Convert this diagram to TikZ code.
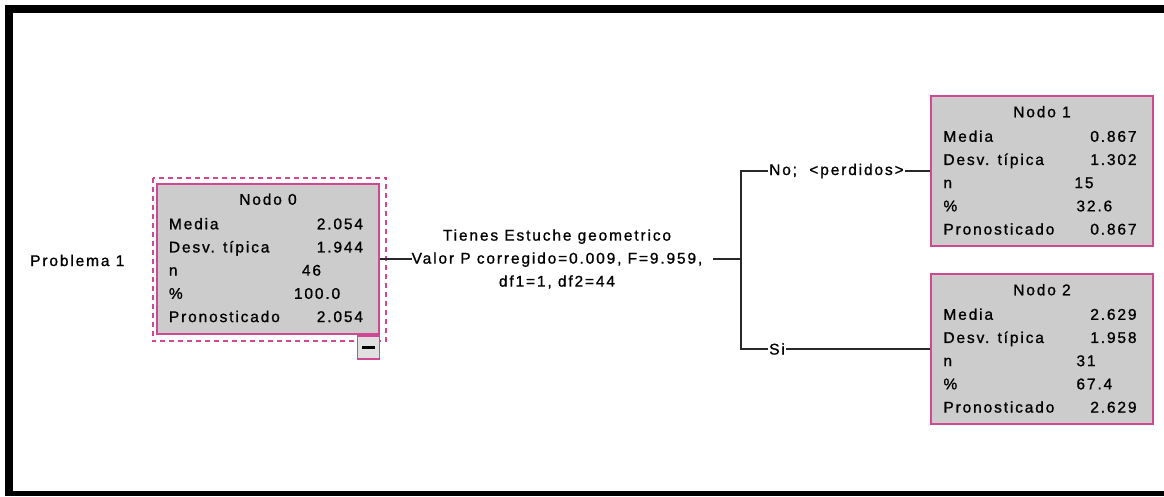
\documentclass[tikz,border=0pt]{standalone}
\usepackage{fontspec}
\setmainfont{Liberation Sans}[LetterSpace=12,FakeBold=1]
\usetikzlibrary{positioning}
\definecolor{spsspink}{RGB}{208,72,146}
\definecolor{spssgray}{RGB}{204,204,204}
\definecolor{spssline}{RGB}{40,40,40}

\begin{document}
\begin{tikzpicture}[
  x=1pt,y=-1pt,
  every node/.style={font=\fontsize{15.5}{23}\selectfont,inner sep=0pt},
  nodebox/.style={draw=spsspink,fill=spssgray,line width=1.5pt,
                  minimum width=222pt,minimum height=150pt},
  togglebox/.style={draw=spsspink,fill=spssgray!60,line width=1.5pt,
                    minimum width=22pt,minimum height=23pt},
  rowlbl/.style={anchor=base west},
  rowval/.style={anchor=base east},
  rowmid/.style={anchor=base west},
  link/.style={draw=spssline,line width=1.4pt},
]
  \useasboundingbox (0,0) rectangle (1164,496);

  % Frame
  \fill (5,5) rectangle (1164,13);
  \fill (5,5) rectangle (13,496);
  \fill (5,491) rectangle (1164,496);

  % Root label
  \node[anchor=base west] (root) at (30,266) {Problema 1};

  % Nodo 0
  \node[nodebox,line width=2.5pt] (n0) at (268,259) {};
  \draw[spsspink,line width=2pt,dash pattern=on 5pt off 4pt]
    ([shift={(-3,-5)}]n0.north west) rectangle ([shift={(6,6)}]n0.south east);
  \node[togglebox,anchor=north east] (t0) at (n0.south east) {\rule{13pt}{2.5pt}};

  % Nodo 1 and Nodo 2
  \node[nodebox] (n1) at (1042,171) {};
  \node[nodebox] (n2) at (1042,349) {};

  % Titles and row labels
  \foreach \b/\t in {n0/Nodo 0,n1/Nodo 1,n2/Nodo 2} {
    \node[anchor=base] (\b-title) at ([yshift=-22pt]\b.north) {\t};
    \foreach \lab [count=\k from 0] in {Media,Desv. típica,n,\%,Pronosticado}
      \node[rowlbl] (\b-l\k) at ([xshift=13pt,yshift=-46.5pt-23.2pt*\k]\b.north west) {\lab};
  }

  % Values Nodo 0
  \node[rowval] (n0-v0) at ([xshift=-17pt,yshift=-46.5pt]n0.north east) {2.054};
  \node[rowval] (n0-v1) at ([xshift=-17pt,yshift=-69.7pt]n0.north east) {1.944};
  \node[rowmid] (n0-v2) at ([xshift=146pt,yshift=-92.9pt]n0.north west) {46};
  \node[rowmid] (n0-v3) at ([xshift=138pt,yshift=-116.1pt]n0.north west) {100.0};
  \node[rowval] (n0-v4) at ([xshift=-17pt,yshift=-139.3pt]n0.north east) {2.054};

  % Values Nodo 1
  \node[rowval] (n1-v0) at ([xshift=-17pt,yshift=-46.5pt]n1.north east) {0.867};
  \node[rowval] (n1-v1) at ([xshift=-17pt,yshift=-69.7pt]n1.north east) {1.302};
  \node[rowmid] (n1-v2) at ([xshift=144pt,yshift=-92.9pt]n1.north west) {15};
  \node[rowmid] (n1-v3) at ([xshift=146pt,yshift=-116.1pt]n1.north west) {32.6};
  \node[rowval] (n1-v4) at ([xshift=-17pt,yshift=-139.3pt]n1.north east) {0.867};

  % Values Nodo 2
  \node[rowval] (n2-v0) at ([xshift=-17pt,yshift=-46.5pt]n2.north east) {2.629};
  \node[rowval] (n2-v1) at ([xshift=-17pt,yshift=-69.7pt]n2.north east) {1.958};
  \node[rowmid] (n2-v2) at ([xshift=146pt,yshift=-92.9pt]n2.north west) {31};
  \node[rowmid] (n2-v3) at ([xshift=146pt,yshift=-116.1pt]n2.north west) {67.4};
  \node[rowval] (n2-v4) at ([xshift=-17pt,yshift=-139.3pt]n2.north east) {2.629};

  % Split
  \node[align=center] (split) at (557,259)
    {Tienes Estuche geometrico\\Valor P corregido=0.009, F=9.959,\\df1=1, df2=44};
  \coordinate (fork) at (741,259);
  \node[anchor=west,inner xsep=1pt] (b1) at (768,171) {No;\ \ <perdidos>};
  \node[anchor=west,inner xsep=1pt] (b2) at (768,349) {Si};

  % Connectors
  \draw[link] (n0.east) -- (split.west);
  \draw[link] ([xshift=10pt]split.east) -- (fork);
  \draw[link] (b1.west) -| (fork);
  \draw[link] (b2.west) -| (fork);
  \draw[link] (b1.east) -- (n1.west);
  \draw[link] (b2.east) -- (n2.west);
\end{tikzpicture}
\end{document}
